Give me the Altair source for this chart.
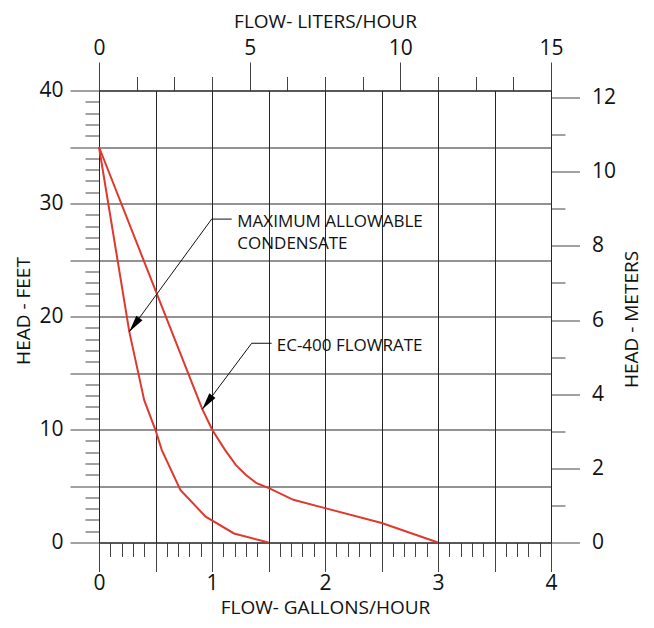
import altair as alt
import pandas as pd

# ---- data ----
COND_GPH = [0.0, 0.268, 0.40, 0.50, 0.555, 0.72, 0.944, 1.195, 1.5]
COND_FT = [35.0, 18.66, 12.6, 9.95, 8.2, 4.65, 2.28, 0.8, 0.0]

EC_GPH = [0.0, 0.914, 1.003, 1.115, 1.21, 1.298, 1.395, 1.504, 1.72, 2.0, 2.502, 3.0]
EC_FT = [35.0, 11.8, 9.96, 8.2, 6.87, 5.99, 5.25, 4.81, 3.78, 3.04, 1.72, 0.0]

NOTE_TEXT = ["MAXIMUM ALLOWABLE", "CONDENSATE", "EC-400 FLOWRATE"]
NOTE_GPH = [1.224, 1.224, 1.573]
NOTE_FT = [27.89, 25.94, 16.98]

LEADER_ID = ["a", "a", "a", "b", "b", "b"]
LEADER_GPH = [1.174, 0.997, 0.268, 1.528, 1.351, 0.914]
LEADER_FT = [28.62, 28.62, 18.66, 17.63, 17.63, 11.79]

ARROW_GPH = [0.268, 0.914]
ARROW_FT = [18.66, 11.79]

# ---- ticks ----
GPH_TICKS = [round(i * 0.1, 1) for i in range(41)]
GPH_MAJOR = [0, 0.5, 1, 1.5, 2, 2.5, 3, 3.5, 4]
GPH_LABELS = [0, 1, 2, 3, 4]

FT_TICKS = list(range(41))
FT_MAJOR = [0, 5, 10, 15, 20, 25, 30, 35, 40]
FT_LABELS = [0, 10, 20, 30, 40]

LPH_TICKS = [round(i * 1.25, 2) for i in range(13)]
LPH_MAJOR = [0, 5, 10, 15]
LPH_LABELS = [0, 5, 10, 15]

M_TICKS = list(range(13))
M_MAJOR = [0, 2, 4, 6, 8, 10, 12]
M_LABELS = [0, 2, 4, 6, 8, 10, 12]

FONT = "Open Sans"
RED = "#e0382d"
TICK = "#444444"
GRID = "#262626"


def cond(values, yes, no):
    return {"condition": {"test": f"indexof({values}, datum.value) >= 0", "value": yes}, "value": no}


def lab(values):
    return f"indexof({values}, datum.value) >= 0 ? format(datum.value, 'd') : ''"


common = dict(
    labelFont=FONT, labelFontSize=21, labelColor="#111111",
    titleFont=FONT, titleFontSize=19, titleFontWeight="normal", titleColor="#111111",
    tickColor=TICK, tickWidth=1, domainColor=GRID, domainWidth=1,
    labelOverlap=False, labelFlush=False, labelBound=False,
    titleBaseline="middle", titleAlign="center",
)

bottom_axis = alt.Axis(
    orient="bottom", values=GPH_TICKS, title="FLOW- GALLONS/HOUR",
    tickSize=cond(GPH_MAJOR, 29, 14), labelExpr=lab(GPH_LABELS),
    labelPadding=12, labelBaseline="middle",
    grid=True, gridColor=GRID, gridWidth=1, gridOpacity=cond(GPH_MAJOR, 1, 0),
    titleY=65, **common,
)
left_axis = alt.Axis(
    orient="left", values=FT_TICKS, title="HEAD - FEET",
    tickSize=cond(FT_MAJOR, 29, 14), labelExpr=lab(FT_LABELS),
    labelPadding=7,
    grid=True, gridColor=GRID, gridWidth=1, gridOpacity=cond(FT_MAJOR, 1, 0),
    titleX=-76, titleY=220, titleAngle=270, **common,
)
top_axis = alt.Axis(
    orient="top", values=LPH_TICKS, title="FLOW- LITERS/HOUR",
    tickSize=cond(LPH_MAJOR, 28.5, 14), labelExpr=lab(LPH_LABELS),
    labelPadding=14, labelBaseline="middle", grid=False,
    titleY=-69, **common,
)
right_axis = alt.Axis(
    orient="right", values=M_TICKS, title="HEAD - METERS",
    tickSize=cond(M_MAJOR, 28.5, 14), labelExpr=lab(M_LABELS),
    labelPadding=12, grid=False,
    titleX=80, titleY=228.5, titleAngle=270, **common,
)

curves = pd.DataFrame({
    "gph": COND_GPH + EC_GPH,
    "ft": COND_FT + EC_FT,
    "series": ["cond"] * len(COND_GPH) + ["ec"] * len(EC_GPH),
    "idx": list(range(len(COND_GPH))) + list(range(len(EC_GPH))),
})
notes = pd.DataFrame({"gph": NOTE_GPH, "ft": NOTE_FT, "text": NOTE_TEXT})
leaders = pd.DataFrame({"gph": LEADER_GPH, "ft": LEADER_FT, "id": LEADER_ID,
                        "idx": list(range(len(LEADER_ID)))})
arrows = pd.DataFrame({"gph": ARROW_GPH, "ft": ARROW_FT})


def xs():
    return alt.Scale(domain=[0, 4], nice=False, zero=False)


def ys():
    return alt.Scale(domain=[0, 40], nice=False, zero=False)


curve_layer = alt.Chart(curves).mark_line(color=RED, strokeWidth=2).encode(
    x=alt.X("gph:Q", scale=xs(), axis=bottom_axis),
    y=alt.Y("ft:Q", scale=ys(), axis=left_axis),
    detail="series:N",
    order="idx:Q",
)
leader_layer = alt.Chart(leaders).mark_line(color="#111111", strokeWidth=1).encode(
    x=alt.X("gph:Q", scale=xs(), axis=None),
    y=alt.Y("ft:Q", scale=ys(), axis=None),
    detail="id:N",
    order="idx:Q",
)
arrow_layer = alt.Chart(arrows).mark_point(
    shape="M0,0L0.45,2L-0.45,2Z", size=289, filled=True, color="#000000",
    opacity=1, angle=216.5,
).encode(
    x=alt.X("gph:Q", scale=xs(), axis=None),
    y=alt.Y("ft:Q", scale=ys(), axis=None),
)
text_layer = alt.Chart(notes).mark_text(
    align="left", baseline="alphabetic", font=FONT, fontSize=17, color="#111111",
).encode(
    x=alt.X("gph:Q", scale=xs(), axis=None),
    y=alt.Y("ft:Q", scale=ys(), axis=None),
    text="text:N",
)

top_layer = alt.Chart(pd.DataFrame({"lph": [0, 15]})).mark_point(opacity=0).encode(
    x=alt.X("lph:Q", scale=alt.Scale(domain=[0, 15], nice=False, zero=False), axis=top_axis),
)
right_layer = alt.Chart(pd.DataFrame({"m": [0, 12]})).mark_point(opacity=0).encode(
    y=alt.Y("m:Q", scale=alt.Scale(domain=[0, 40 * 0.3048], nice=False, zero=False), axis=right_axis),
)

chart = alt.layer(
    curve_layer, leader_layer, arrow_layer, text_layer, top_layer, right_layer
).resolve_scale(
    x="independent", y="independent"
).properties(
    width=452, height=452,
    padding={"left": 91, "top": 82.5, "right": 95, "bottom": 77.5},
    autosize=alt.AutoSizeParams(type="none"),
).configure_view(strokeOpacity=0).configure(font=FONT)

chart.save("out.html", embed_options={"renderer": "svg", "actions": False})
